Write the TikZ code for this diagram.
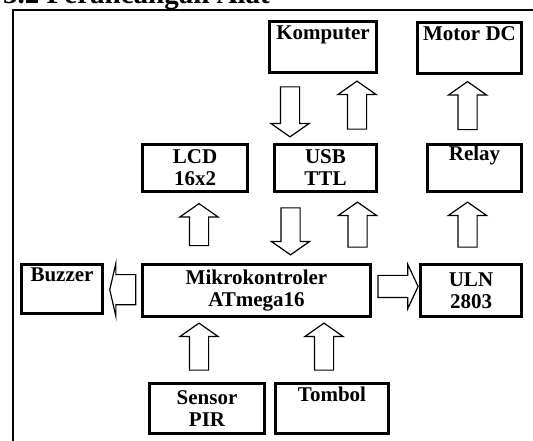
\documentclass[tikz,border=0pt]{standalone}
\usepackage{fontspec}
\setmainfont{Liberation Serif}
\usepackage{tikz}
\usetikzlibrary{shapes.arrows,calc}
\tikzset{
    block-box/.style = {draw, line width=3pt, rectangle, align=center, inner sep=0pt, font=\fontsize{21}{22}\selectfont\bfseries},
    fat-arrow/.style = {draw, line width=1.2pt, single arrow, single arrow head indent=0pt, inner xsep=0pt, text height=0pt, text depth=0pt},
    vert-arrow/.style = {fat-arrow, inner ysep=9pt, single arrow head extend=9.5pt, single arrow tip angle=110, minimum height=46pt},
    up-arrow/.style = {vert-arrow, rotate=90},
    down-arrow/.style = {vert-arrow, rotate=-90},
    left-arrow/.style = {fat-arrow, rotate=180, inner ysep=14.5pt, single arrow head extend=11.5pt, single arrow tip angle=154, minimum height=26pt},
    right-arrow/.style = {fat-arrow, inner ysep=10.5pt, single arrow head extend=11pt, single arrow tip angle=130, minimum height=40pt},
}

\begin{document}
\begin{tikzpicture}[x=1pt,y=1pt]
\useasboundingbox (0,0) rectangle (533,441);
\clip (0,0) rectangle (533,441);
\node[anchor=base west, inner sep=0pt, font=\fontsize{29}{31}\selectfont\bfseries] (judul) at (3,437) {3.2 Perancangan Alat};
\draw[line width=1.5pt] (533,431) -- (13,431) -- (13,0);

% blok
\node[block-box, minimum width=107pt, minimum height=51pt] (komputer) at (323,394) {Komputer\\\strut};
\node[block-box, minimum width=104pt, minimum height=51pt] (motor) at (469.5,393) {Motor DC\\\strut};
\node[block-box, minimum width=105pt, minimum height=47pt] (lcd) at (195,273) {LCD\\16x2};
\node[block-box, minimum width=102pt, minimum height=47pt] (usb) at (325.5,273) {USB\\TTL};
\node[block-box, minimum width=94pt, minimum height=47pt] (relay) at (474.5,273) {Relay\\\strut};
\node[block-box, minimum width=81pt, minimum height=49pt] (buzzer) at (62,152) {Buzzer\\\strut};
\node[block-box, minimum width=228pt, minimum height=52pt] (mcu) at (256.5,150.5) {Mikrokontroler\\ATmega16};
\node[block-box, minimum width=101pt, minimum height=52pt] (uln) at (471,150.5) {ULN\\2803};
\node[block-box, minimum width=115pt, minimum height=50pt] (pir) at (207,32.5) {Sensor\\PIR};
\node[block-box, minimum width=113pt, minimum height=50pt] (tombol) at (332,32.5) {Tombol\\\strut};

% panah
\node[down-arrow, minimum height=50pt] (a1) at ($(komputer.south)!.5!(komputer.south|-usb.north)+(-33,0)$) {};
\node[up-arrow, minimum height=48pt] (a2) at ($(komputer.south)!.5!(komputer.south|-usb.north)+(34,0)$) {};
\node[up-arrow, minimum height=48pt] (a3) at ($(motor.south)!.5!(motor.south|-relay.north)+(-2,0)$) {};
\node[up-arrow, minimum height=42pt] (a4) at ($(lcd.south)!.5!(lcd.south|-mcu.north)+(4,0)$) {};
\node[down-arrow, minimum height=47pt] (a5) at ($(usb.south)!.5!(usb.south|-mcu.north)+(-35,0)$) {};
\node[up-arrow, minimum height=45pt] (a6) at ($(usb.south)!.5!(usb.south|-mcu.north)+(32,0)$) {};
\node[up-arrow, minimum height=45pt] (a7) at ($(relay.south)!.5!(relay.south|-uln.north)+(-7,0)$) {};
\node[left-arrow] (a8) at ($(buzzer.east)!.5!(mcu.west)+(2,0)$) {};
\node[right-arrow] (a9) at ($(mcu.east)!.5!(uln.west)+(0,4)$) {};
\node[up-arrow, minimum height=47pt] (a10) at ($(pir.north)!.5!(pir.north|-mcu.south)+(-8,0)$) {};
\node[up-arrow, minimum height=47pt] (a11) at ($(tombol.north)!.5!(tombol.north|-mcu.south)+(-8,0)$) {};
\end{tikzpicture}
\end{document}
